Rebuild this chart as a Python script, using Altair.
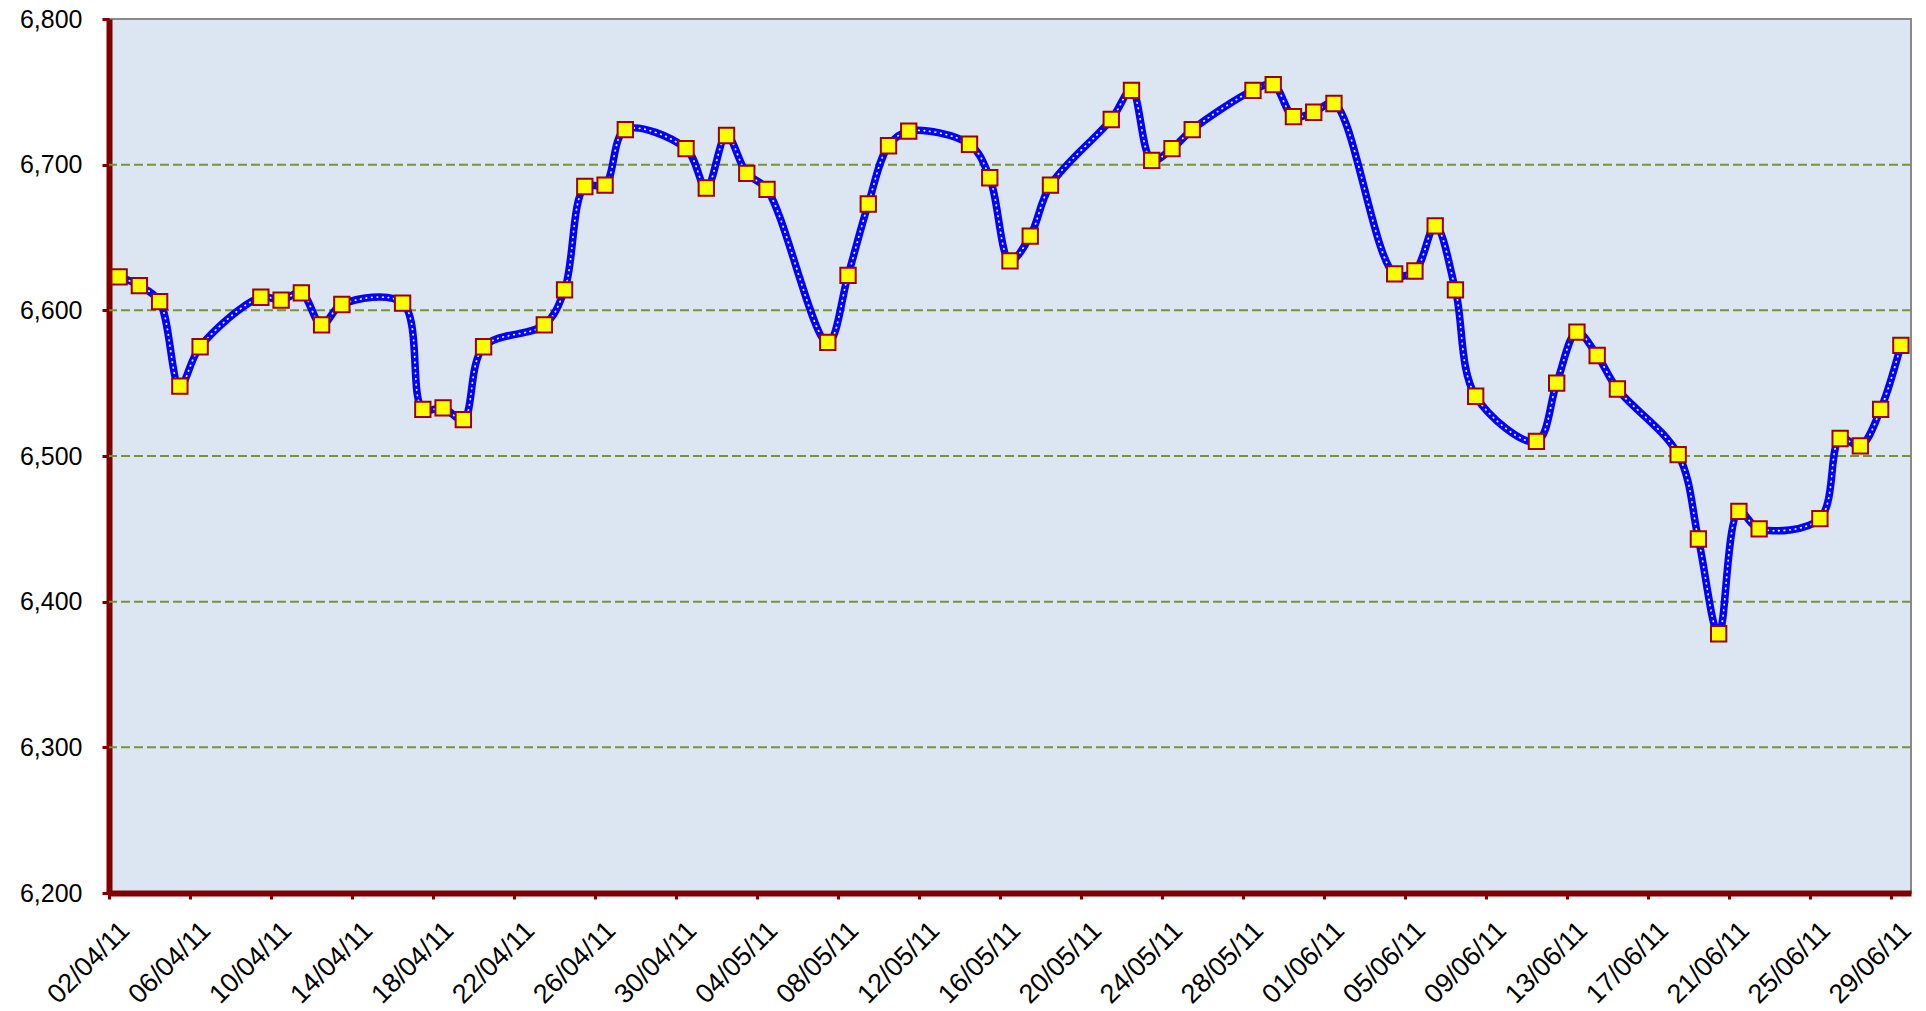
import altair as alt
import pandas as pd
from datetime import date, timedelta

# --- data ---
dates = [
    "2011-04-02", "2011-04-03", "2011-04-04", "2011-04-05", "2011-04-06",
    "2011-04-09", "2011-04-10", "2011-04-11", "2011-04-12", "2011-04-13",
    "2011-04-16", "2011-04-17", "2011-04-18", "2011-04-19", "2011-04-20",
    "2011-04-23", "2011-04-24", "2011-04-25", "2011-04-26", "2011-04-27",
    "2011-04-30", "2011-05-01", "2011-05-02", "2011-05-03", "2011-05-04",
    "2011-05-07", "2011-05-08", "2011-05-09", "2011-05-10", "2011-05-11",
    "2011-05-14", "2011-05-15", "2011-05-16", "2011-05-17", "2011-05-18",
    "2011-05-21", "2011-05-22", "2011-05-23", "2011-05-24", "2011-05-25",
    "2011-05-28", "2011-05-29", "2011-05-30", "2011-05-31", "2011-06-01",
    "2011-06-04", "2011-06-05", "2011-06-06", "2011-06-07", "2011-06-08",
    "2011-06-11", "2011-06-12", "2011-06-13", "2011-06-14", "2011-06-15",
    "2011-06-18", "2011-06-19", "2011-06-20", "2011-06-21", "2011-06-22",
    "2011-06-25", "2011-06-26", "2011-06-27", "2011-06-28", "2011-06-29",
]
values = [
    6623, 6617, 6606, 6548, 6575,
    6609, 6607, 6612, 6590, 6604,
    6605, 6532, 6533, 6525, 6575,
    6590, 6614, 6685, 6686, 6724,
    6711, 6684, 6720, 6694, 6683,
    6578, 6624, 6673, 6713, 6723,
    6714, 6691, 6634, 6651, 6686,
    6731, 6751, 6703, 6711, 6724,
    6751, 6755, 6733, 6736, 6742,
    6625, 6627, 6658, 6614, 6541,
    6510, 6550, 6585, 6569, 6546,
    6501, 6443, 6378, 6462, 6450,
    6457, 6512, 6507, 6532, 6576,
]

# x axis: ticks every 4 days from 02/04/11 to 29/06/11, axis ends at 30/06/11
tick_start = date(2011, 4, 2)
tick_count = 23
axis_end = date(2011, 6, 30)
y_ticks = [6200, 6300, 6400, 6500, 6600, 6700, 6800]
grid_ticks = [6300, 6400, 6500, 6600, 6700]

def dt(d):
    return alt.DateTime(year=d.year, month=d.month, date=d.day)

tick_values = [dt(tick_start + timedelta(days=4 * i)) for i in range(tick_count)]

df = pd.DataFrame({
    "date": [d + "T12:00:00" for d in dates],  # points sit in the middle of each day
    "value": values,
})
grid_df = pd.DataFrame({"value": grid_ticks})

x_scale = alt.Scale(domain=[dt(tick_start), dt(axis_end)], nice=False)
y_scale = alt.Scale(domain=[6200, 6800], nice=False, zero=False)

x_axis = alt.Axis(
    values=tick_values,
    format="%d/%m/%y",
    title=None,
    grid=False,
    labelAngle=315,
    labelAlign="right",
    labelBaseline="middle",
    labelOffset=16,
    labelPadding=27,
    labelFlush=False,
    labelOverlap=False,
    labelFont="Liberation Sans",
    labelFontSize=27,
    labelColor="#000000",
    domainColor="#800000",
    domainWidth=6,
    tickColor="#800000",
    tickWidth=3,
    tickSize=6,
)
y_axis = alt.Axis(
    values=y_ticks,
    format=",d",
    title=None,
    grid=False,
    labelFont="Liberation Sans",
    labelFontSize=25,
    labelColor="#000000",
    labelPadding=20,
    domainColor="#800000",
    domainWidth=6,
    tickColor="#800000",
    tickWidth=3,
    tickSize=7,
)

grid = alt.Chart(grid_df).mark_rule(
    color="#77933C", strokeWidth=2, strokeDash=[9, 4]
).encode(y=alt.Y("value:Q", scale=y_scale, axis=y_axis))

base = alt.Chart(df).encode(
    x=alt.X("date:T", scale=x_scale, axis=x_axis),
    y=alt.Y("value:Q", scale=y_scale, axis=y_axis),
)

line = base.mark_line(color="#0000FF", strokeWidth=7.5, interpolate="catmull-rom")
dots = base.mark_line(
    color="#E8EEFF", strokeWidth=1.8, strokeDash=[0.5, 5], strokeCap="round",
    interpolate="catmull-rom",
)
points = base.mark_point(
    shape="square", size=235, filled=True, fill="#FFFF00", stroke="#990000",
    strokeWidth=2, opacity=1,
)

chart = (
    alt.layer(grid, line, dots, points)
    .properties(
        width=1802,
        height=874,
        autosize=alt.AutoSizeParams(type="none"),
        padding={"left": 101, "top": 11, "right": 7, "bottom": 116},
        background="#FFFFFF",
    )
    .configure_view(fill="#DCE6F2", stroke="#8A8A8A", strokeWidth=2)
)

chart.save("out.html", embed_options={"renderer": "svg", "actions": False})
